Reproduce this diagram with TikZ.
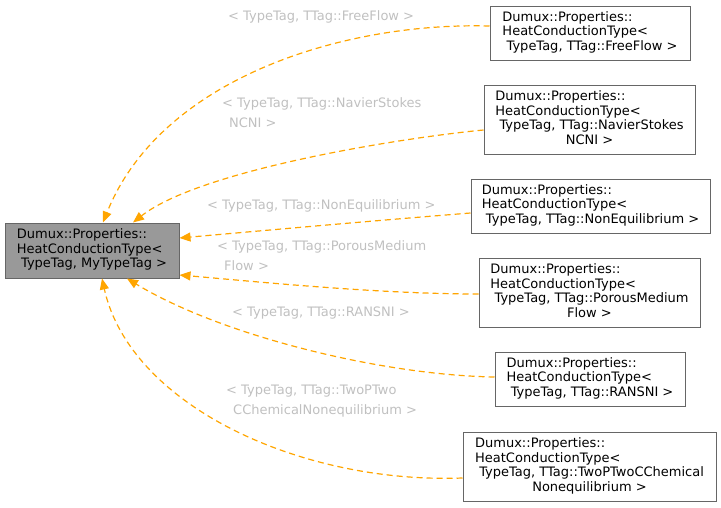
\documentclass[tikz,border=0pt]{standalone}
\usepackage{fontspec}
\setmainfont{DejaVu Sans}
\usetikzlibrary{arrows.meta}
\definecolor{edgeorange}{HTML}{FFA500}
\definecolor{lblgray}{HTML}{C0C0C0}
\definecolor{boxborder}{HTML}{666666}
\definecolor{mainfill}{HTML}{999999}
\newcommand\nodefnt{\fontsize{13}{14.5}\selectfont}
\newcommand\lblfnt{\fontsize{13}{20}\selectfont}
\begin{document}
\begin{tikzpicture}[x=1pt,y=-1pt,
  box/.style={draw=boxborder, fill=white, line width=1pt, inner sep=0pt, font=\nodefnt, text=black},
  edge/.style={draw=edgeorange, line width=1.2pt, dash pattern=on 6pt off 4pt,
    -{Triangle[length=11pt,width=9pt,fill=edgeorange]}},
  lbl/.style={text=lblgray, font=\lblfnt, inner sep=0pt, anchor=base west}
]
\useasboundingbox (0,0) rectangle (721,507);

\node[box, fill=mainfill, minimum width=174pt, minimum height=55pt] (main) at (92,250.5)
  {\begin{tabular}{@{}l@{}}Dumux::Properties::\\HeatConductionType<\\\ TypeTag, MyTypeTag >\end{tabular}};

\node[box, minimum width=200pt, minimum height=54pt] (ff) at (590,33)
  {\begin{tabular}{@{}l@{}}Dumux::Properties::\\HeatConductionType<\\\ TypeTag, TTag::FreeFlow >\end{tabular}};
\node[box, minimum width=211pt, minimum height=69pt] (ns) at (589.5,119.5)
  {\begin{tabular}{@{}l@{}}Dumux::Properties::\\HeatConductionType<\\\ TypeTag, TTag::NavierStokes\\\multicolumn{1}{@{}c@{}}{NCNI >}\end{tabular}};
\node[box, minimum width=239pt, minimum height=54pt] (ne) at (590.5,206)
  {\begin{tabular}{@{}l@{}}Dumux::Properties::\\HeatConductionType<\\\ TypeTag, TTag::NonEquilibrium >\end{tabular}};
\node[box, minimum width=221pt, minimum height=69pt] (pm) at (589.5,292.5)
  {\begin{tabular}{@{}l@{}}Dumux::Properties::\\HeatConductionType<\\\ TypeTag, TTag::PorousMedium\\\multicolumn{1}{@{}c@{}}{Flow >}\end{tabular}};
\node[box, minimum width=190pt, minimum height=54pt] (ra) at (590,379)
  {\begin{tabular}{@{}l@{}}Dumux::Properties::\\HeatConductionType<\\\ TypeTag, TTag::RANSNI >\end{tabular}};
\node[box, minimum width=253pt, minimum height=69pt] (tp) at (589.5,466.5)
  {\begin{tabular}{@{}l@{}}Dumux::Properties::\\HeatConductionType<\\\ TypeTag, TTag::TwoPTwoCChemical\\\multicolumn{1}{@{}c@{}}{Nonequilibrium >}\end{tabular}};

\draw[edge] ([yshift=7pt]ff.west) .. controls (340,22) and (160,80) .. ([xshift=11pt]main.north);
\draw[edge] ([yshift=-10.5pt]ns.west) .. controls (400,138) and (200,170) .. ([xshift=41pt]main.north);
\draw[edge] ([yshift=-7pt]ne.west) .. controls (370,221) and (270,230) .. ([yshift=12.5pt]main.east);
\draw[edge] ([yshift=-1.5pt]pm.west) .. controls (380,294) and (260,282) .. ([yshift=-24.5pt]main.east);
\draw[edge] ([yshift=2pt]ra.west) .. controls (380,375) and (220,335) .. ([xshift=35pt]main.south);
\draw[edge] ([yshift=-11.5pt]tp.west) .. controls (300,484) and (130,405) .. ([xshift=10pt]main.south);

\node[lbl] (lff) at (228,20.5) {\begin{tabular}[t]{@{}l@{}}< TypeTag, TTag::FreeFlow >\end{tabular}};
\node[lbl] (lns) at (222,107.5) {\begin{tabular}[t]{@{}l@{}}< TypeTag, TTag::NavierStokes\\\hspace*{7pt}NCNI >\end{tabular}};
\node[lbl] (lne) at (207,209.5) {\begin{tabular}[t]{@{}l@{}}< TypeTag, TTag::NonEquilibrium >\end{tabular}};
\node[lbl] (lpm) at (217,250.5) {\begin{tabular}[t]{@{}l@{}}< TypeTag, TTag::PorousMedium\\\hspace*{7pt}Flow >\end{tabular}};
\node[lbl] (lra) at (232,316.5) {\begin{tabular}[t]{@{}l@{}}< TypeTag, TTag::RANSNI >\end{tabular}};
\node[lbl] (ltp) at (226,394.5) {\begin{tabular}[t]{@{}l@{}}< TypeTag, TTag::TwoPTwo\\\hspace*{7pt}CChemicalNonequilibrium >\end{tabular}};
\end{tikzpicture}
\end{document}
